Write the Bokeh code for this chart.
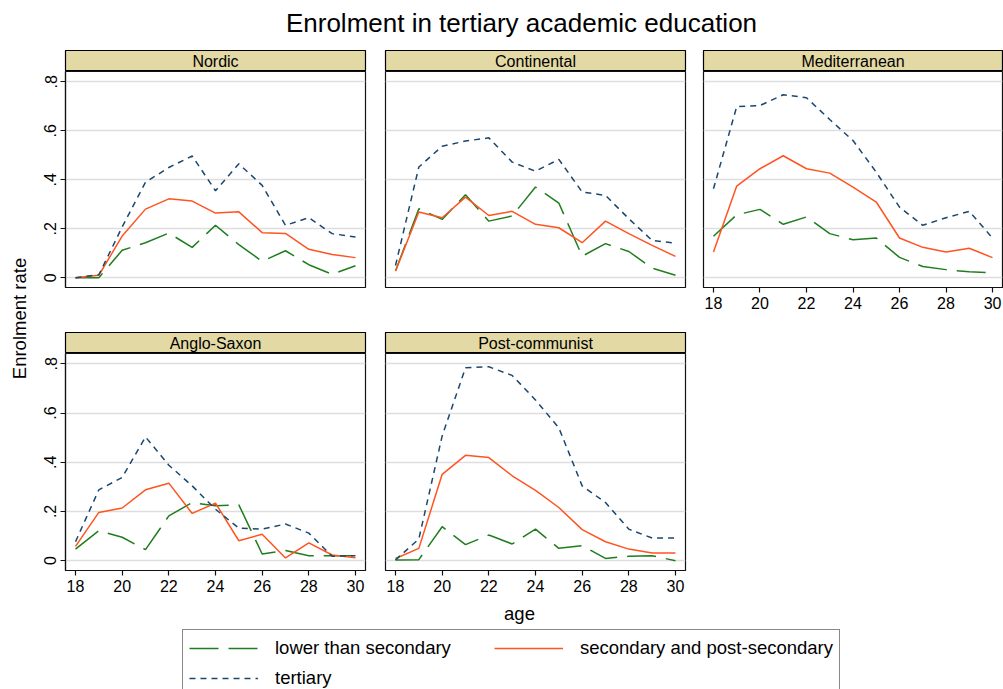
from math import pi
from bokeh.plotting import figure
from bokeh.models import Range1d, FixedTicker, Label, Legend, LegendItem
from bokeh.layouts import column, row
from bokeh.embed import file_html
from bokeh.resources import INLINE

# ---------------- data ----------------
ages = list(range(18, 31))
regions = ["Nordic", "Continental", "Mediterranean", "Anglo-Saxon", "Post-communist"]
series_names = ["lower than secondary", "secondary and post-secondary", "tertiary"]

nordic_lower = [0.000, 0.000, 0.112, 0.143, 0.182, 0.124, 0.214, 0.135, 0.067, 0.110, 0.053, 0.014, 0.049]
nordic_sec   = [0.000, 0.010, 0.170, 0.280, 0.322, 0.313, 0.264, 0.269, 0.184, 0.181, 0.116, 0.095, 0.082]
nordic_ter   = [0.000, 0.012, 0.207, 0.390, 0.450, 0.497, 0.355, 0.465, 0.377, 0.214, 0.245, 0.180, 0.166]

continental_lower = [0.027, 0.282, 0.238, 0.339, 0.231, 0.252, 0.370, 0.305, 0.088, 0.139, 0.107, 0.039, 0.010]
continental_sec   = [0.027, 0.268, 0.245, 0.329, 0.254, 0.271, 0.218, 0.204, 0.143, 0.231, 0.180, 0.132, 0.087]
continental_ter   = [0.050, 0.452, 0.537, 0.558, 0.571, 0.472, 0.435, 0.483, 0.350, 0.336, 0.241, 0.152, 0.141]

mediterranean_lower = [0.169, 0.257, 0.279, 0.218, 0.248, 0.180, 0.155, 0.162, 0.083, 0.046, 0.033, 0.024, 0.020]
mediterranean_sec   = [0.105, 0.374, 0.445, 0.498, 0.445, 0.427, 0.370, 0.309, 0.162, 0.124, 0.105, 0.120, 0.082]
mediterranean_ter   = [0.363, 0.699, 0.703, 0.747, 0.735, 0.646, 0.560, 0.431, 0.288, 0.214, 0.245, 0.271, 0.162]

anglo_lower = [0.047, 0.122, 0.095, 0.045, 0.182, 0.236, 0.223, 0.227, 0.027, 0.041, 0.020, 0.020, 0.020]
anglo_sec   = [0.058, 0.196, 0.214, 0.288, 0.315, 0.192, 0.234, 0.081, 0.107, 0.011, 0.072, 0.023, 0.012]
anglo_ter   = [0.077, 0.288, 0.338, 0.503, 0.388, 0.304, 0.209, 0.132, 0.128, 0.149, 0.112, 0.018, 0.020]

postcom_lower = [0.003, 0.004, 0.138, 0.065, 0.104, 0.068, 0.128, 0.050, 0.061, 0.009, 0.018, 0.020, 0.000]
postcom_sec   = [0.009, 0.050, 0.351, 0.428, 0.419, 0.345, 0.286, 0.216, 0.126, 0.077, 0.047, 0.031, 0.031]
postcom_ter   = [0.003, 0.088, 0.507, 0.784, 0.788, 0.753, 0.653, 0.540, 0.304, 0.236, 0.128, 0.092, 0.092]

y_ticks = [0, 0.2, 0.4, 0.6, 0.8]
y_tick_labels = ["0", ".2", ".4", ".6", ".8"]
x_ticks = [18, 20, 22, 24, 26, 28, 30]

title_text = "Enrolment in tertiary academic education"
y_title = "Enrolment rate"
x_title = "age"

# ---------------- styles ----------------
FONT = "Liberation Sans"
COLORS = ["#1f7d1f", "#ff5420", "#1a476f"]
DASHES = ["29 10", "solid", "6 5"]
LW = 1.5
STRIP = "#e3d9a5"
GRID = "#dedede"

X_RANGE = (17.571, 30.429)
Y_RANGE = (-0.04, 0.842)


def blank(width, height, xr=(0, 1), yr=(0, 1)):
    f = figure(width=width, height=height, x_range=Range1d(*xr), y_range=Range1d(*yr),
               x_axis_location=None, y_axis_location=None, toolbar_location=None,
               output_backend="svg", min_border=0, outline_line_color=None,
               background_fill_color="white", border_fill_color="white")
    f.grid.visible = False
    return f


def text_label(x, y, text, size, angle=0.0):
    return Label(x=x, y=y, x_units="screen", y_units="screen", text=text, angle=angle,
                 text_align="center", text_baseline="middle", text_font=FONT,
                 text_font_size=size, text_color="black")


def make_strip(name, width, left, right):
    s = figure(width=width, height=21, x_range=Range1d(0, 1), y_range=Range1d(0, 1),
               x_axis_location=None, y_axis_location=None, toolbar_location=None,
               output_backend="svg", min_border_left=left, min_border_right=right,
               min_border_top=0, min_border_bottom=0,
               background_fill_color=STRIP, border_fill_color="white",
               outline_line_color="black", outline_line_width=1.2)
    s.grid.visible = False
    s.add_layout(Label(x=0.5, y=0.5, text=name, text_align="center", text_baseline="middle",
                       text_font=FONT, text_font_size="16px", text_color="black"))
    return s


def make_panel(vals, width, height, left, right, bottom, show_x, show_y):
    p = figure(width=width, height=height,
               x_range=Range1d(*X_RANGE), y_range=Range1d(*Y_RANGE),
               x_axis_location="below" if show_x else None,
               y_axis_location="left" if show_y else None,
               toolbar_location=None, output_backend="svg",
               min_border_left=left, min_border_right=right,
               min_border_top=0, min_border_bottom=bottom,
               background_fill_color="white", border_fill_color="white",
               outline_line_color="#111111", outline_line_width=1.2)
    p.xgrid.visible = False
    p.ygrid.ticker = FixedTicker(ticks=y_ticks, minor_ticks=[])
    p.ygrid.grid_line_color = GRID
    p.ygrid.grid_line_width = 1.3
    if show_x:
        p.xaxis[0].ticker = FixedTicker(ticks=x_ticks, minor_ticks=[])
    if show_y:
        ay = p.yaxis[0]
        ay.ticker = FixedTicker(ticks=y_ticks, minor_ticks=[])
        ay.major_label_overrides = dict(zip(y_ticks, y_tick_labels))
        ay.major_label_orientation = "vertical"
    for ax in list(p.xaxis) + list(p.yaxis):
        ax.axis_line_color = "#111111"
        ax.axis_line_width = 1.2
        ax.major_tick_line_color = "#111111"
        ax.major_tick_line_width = 1.2
        ax.major_tick_out = 5
        ax.major_tick_in = 0
        ax.minor_tick_line_color = None
        ax.major_label_text_font = FONT
        ax.major_label_text_font_size = "16px"
        ax.major_label_text_color = "black"
        ax.major_label_standoff = 4
    for k in range(3):
        p.line(ages, vals[k], line_color=COLORS[k], line_dash=DASHES[k], line_width=LW)
    return p


data = [
    (nordic_lower, nordic_sec, nordic_ter),
    (continental_lower, continental_sec, continental_ter),
    (mediterranean_lower, mediterranean_sec, mediterranean_ter),
    (anglo_lower, anglo_sec, anglo_ter),
    (postcom_lower, postcom_sec, postcom_ter),
]

# column geometry: (fig width, left border, right border)
cols = [(345, 35, 10), (319, 10, 9), (309, 9, 1)]

strips1 = [make_strip(regions[i], *cols[i]) for i in range(3)]
panels1 = []
for i in range(3):
    w, l, r = cols[i]
    panels1.append(make_panel(data[i], w, 261, l, r, 45, show_x=(i == 2), show_y=(i == 0)))
strips2 = [make_strip(regions[3 + i], *cols[i]) for i in range(2)]
panels2 = []
for i in range(2):
    w, l, r = cols[i]
    panels2.append(make_panel(data[3 + i], w, 247, l, r, 30, show_x=True, show_y=(i == 0)))

grid_col = column(row(*strips1), row(*panels1), row(*strips2), row(*panels2))

# y title
yl = blank(30, 550)
yl.add_layout(text_label(18.5, 600 - 318, y_title, "18.5px", angle=pi / 2))

# main title
tf = blank(1003, 50)
tf.add_layout(text_label(521, 50 - 22, title_text, "26px"))

# bottom: x title + legend (legend sample renderers lie outside this figure's ranges)
bf = blank(1003, 89, xr=(100, 200), yr=(100, 200))
bf.add_layout(text_label(519, 89 - 13, x_title, "18.5px"))
rends = [bf.line(ages, data[0][k], line_color=COLORS[k], line_dash=DASHES[k], line_width=LW)
         for k in range(3)]
legend = Legend(items=[LegendItem(label=series_names[k], renderers=[rends[k]]) for k in range(3)],
                location=(182, -8), orientation="horizontal", ncols=2,
                glyph_width=69, glyph_height=24, label_height=24, label_width=213,
                label_standoff=17, spacing=6, padding=6,
                label_text_font=FONT, label_text_font_size="18.5px", label_text_color="black",
                border_line_color="#111111", border_line_width=1.2,
                background_fill_color="white", background_fill_alpha=1.0)
bf.add_layout(legend)

layout = column(tf, row(yl, grid_col), bf)

with open("out.html", "w") as fh:
    fh.write(file_html(layout, INLINE))
